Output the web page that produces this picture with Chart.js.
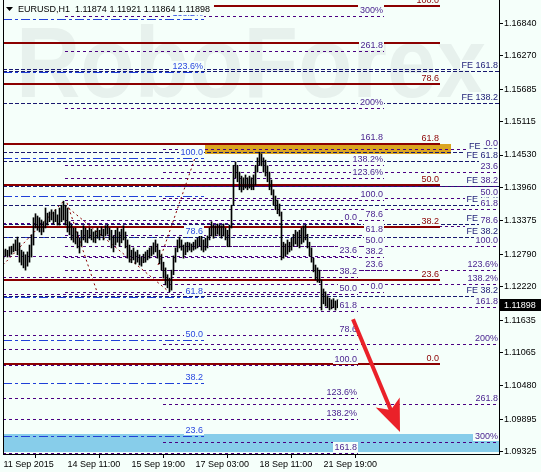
<!DOCTYPE html>
<html>
<head>
<meta charset="utf-8">
<script src="https://cdn.jsdelivr.net/npm/chart.js@4.4.0/dist/chart.umd.min.js"></script>
<style>
html,body{margin:0;padding:0;background:#f5fffa}
#wrap{width:541px;height:472px}
</style>
</head>
<body>
<div id="wrap"><canvas id="c" width="541" height="472"></canvas></div>
<script>
/* EURUSD H1 with fibo levels */
const symbol='EURUSD,H1';
const headOHLC=[1.11874,1.11921,1.11864,1.11898];
const lastPrice=1.11898;

const timeTickBars=[0,32,64,96,128,160];
const timeTickText=['11 Sep 2015','14 Sep 11:00','15 Sep 19:00','17 Sep 03:00','18 Sep 11:00','21 Sep 19:00'];
const priceTicks=[1.16840,1.16270,1.15685,1.15115,1.14530,1.13960,1.13375,1.12790,1.12220,1.11635,1.11065,1.10480,1.09895,1.09325];

const highs=[1.1286,1.1288,1.1286,1.1292,1.1293,1.1297,1.1304,1.1309,1.1299,1.1286,
1.1283,1.1278,1.1283,1.1295,1.1313,1.1343,1.1350,1.1346,1.1343,1.1339,
1.1336,1.1360,1.1351,1.1353,1.1357,1.1353,1.1357,1.1348,1.1360,1.1365,
1.1372,1.1365,1.1360,1.1336,1.1330,1.1325,1.1325,1.1318,1.1307,1.1321,
1.1329,1.1325,1.1321,1.1325,1.1323,1.1318,1.1320,1.1325,1.1321,1.1327,
1.1323,1.1329,1.1330,1.1325,1.1321,1.1311,1.1321,1.1325,1.1318,1.1323,
1.1329,1.1318,1.1304,1.1295,1.1286,1.1290,1.1283,1.1286,1.1278,1.1274,
1.1279,1.1283,1.1286,1.1290,1.1293,1.1299,1.1304,1.1297,1.1286,1.1278,
1.1265,1.1255,1.1243,1.1237,1.1251,1.1276,1.1290,1.1304,1.1309,1.1304,
1.1295,1.1299,1.1300,1.1299,1.1297,1.1300,1.1304,1.1307,1.1318,1.1311,
1.1304,1.1307,1.1311,1.1325,1.1336,1.1330,1.1329,1.1332,1.1330,1.1329,
1.1332,1.1325,1.1321,1.1330,1.1365,1.1435,1.1441,1.1435,1.1423,1.1416,
1.1413,1.1418,1.1413,1.1416,1.1413,1.1418,1.1435,1.1448,1.1458,1.1455,
1.1448,1.1444,1.1434,1.1423,1.1409,1.1392,1.1381,1.1374,1.1367,1.1353,
1.1300,1.1297,1.1304,1.1300,1.1307,1.1314,1.1321,1.1318,1.1321,1.1325,
1.1329,1.1330,1.1314,1.1300,1.1290,1.1272,1.1260,1.1255,1.1251,1.1234,
1.1218,1.1213,1.1206,1.1202,1.1199,1.1201,1.1197,1.1199,1.1195];
const lows=[1.1272,1.1276,1.1274,1.1276,1.1279,1.1283,1.1285,1.1278,1.1265,1.1260,
1.1255,1.1251,1.1258,1.1265,1.1274,1.1295,1.1325,1.1321,1.1318,1.1313,
1.1318,1.1325,1.1330,1.1336,1.1339,1.1332,1.1336,1.1330,1.1330,1.1336,
1.1339,1.1330,1.1318,1.1313,1.1304,1.1300,1.1297,1.1290,1.1281,1.1293,
1.1304,1.1300,1.1299,1.1307,1.1304,1.1300,1.1299,1.1307,1.1304,1.1311,
1.1304,1.1311,1.1314,1.1304,1.1290,1.1283,1.1295,1.1300,1.1293,1.1299,
1.1304,1.1290,1.1272,1.1265,1.1264,1.1269,1.1262,1.1265,1.1260,1.1258,
1.1264,1.1265,1.1269,1.1272,1.1276,1.1279,1.1283,1.1272,1.1262,1.1251,
1.1237,1.1225,1.1220,1.1213,1.1216,1.1243,1.1265,1.1283,1.1290,1.1286,
1.1272,1.1278,1.1283,1.1286,1.1283,1.1286,1.1288,1.1290,1.1293,1.1286,
1.1283,1.1286,1.1290,1.1304,1.1311,1.1307,1.1311,1.1314,1.1311,1.1307,
1.1311,1.1304,1.1292,1.1292,1.1325,1.1365,1.1413,1.1406,1.1392,1.1388,
1.1392,1.1395,1.1392,1.1395,1.1392,1.1392,1.1400,1.1423,1.1435,1.1434,
1.1423,1.1416,1.1406,1.1392,1.1383,1.1365,1.1357,1.1350,1.1346,1.1269,
1.1272,1.1276,1.1279,1.1283,1.1286,1.1293,1.1297,1.1293,1.1290,1.1297,
1.1300,1.1304,1.1290,1.1276,1.1265,1.1248,1.1234,1.1230,1.1229,1.1181,
1.1192,1.1188,1.1185,1.1181,1.1183,1.1185,1.1181,1.1185,1.1187];

// fibo retracement (dark red, solid)
const redPrices=[1.1714,1.1650,1.1578,1.1472,1.1400,1.1326,1.1234,1.1087];
const redLabels=['100.0','','78.6','61.8','50.0','38.2','23.6','0.0'];
// fibo (blue, dash-dot)
const bluePrices=[1.1692,1.1599,1.1448,1.1381,1.1309,1.1204,1.1129,1.1053,1.0960];
const blueLabels=['138.2%','123.6%','100.0','','78.6','61.8','50.0','38.2','23.6'];
// fibo A (purple, upper)
const fiboAPrices=[1.1213,1.1251,1.1274,1.1293,1.1312,1.1339,1.1374,1.1412,1.1436,1.1474,1.1536,1.1635,1.1697];
const fiboALabels=['0.0','23.6','38.2','50.0','61.8','78.6','100.0','123.6%','138.2%','161.8','200%','261.8','300%'];
// fibo B (purple, lower)
const fiboBPrices=[1.1334,1.1275,1.1239,1.1209,1.1180,1.1138,1.1113,1.1085,1.1026,1.0990,1.0931];
const fiboBLabels=['0.0','23.6','38.2','50.0','61.8','78.6','','100.0','123.6%','138.2%','161.8'];
// fibo C (purple, right side)
const fiboCPrices=[1.1464,1.1423,1.1398,1.1378,1.1358,1.1329,1.1293,1.1252,1.1227,1.1187,1.1122,1.1016,1.0950];
const fiboCLabels=['0.0','23.6','38.2','50.0','61.8','78.6','100.0','123.6%','138.2%','161.8','200%','261.8','300%'];
// fibo expansions (navy)
const fePrices=[1.1604,1.1600,1.1544,1.1458,1.1443,1.1399,1.1365,1.1332,1.1309,1.1206];
const feLabels=['','FE 161.8','FE 138.2','FE 100','FE 61.8','FE 38.2','FE 61.8','FE 78.6','FE 38.2','FE 38.2'];

// zones [fromBar,toBar,priceTop,priceBottom]
const orangeZone=[100.75,223.75,1.1472,1.1455];
const blueZone=[-0.25,247.75,1.0963,1.0932];
// zigzag trend lines [bar,price,bar,price]
const trendLines=[[-0.25,1.1260,29.75,1.1371],[31.75,1.1369,46.75,1.1213],[30.75,1.1365,81.75,1.1216],[77.25,1.1260,96.75,1.1458]];
// forecast arrow [bar,price,bar,price]
const arrowPts=[174.75,1.1165,198.25,1.0967];

const yMin=1.09285, yMax=1.17249;
const F='"Liberation Sans", Arial, sans-serif';
const BG='#f5fffa';

const groups=[
    {prices:bluePrices,labels:blueLabels,from:-0.25,to:100.25,color:'#2040d8',text:'#2a48e0',width:1,dash:[9,3,3,3]},
    {prices:fiboBPrices,labels:fiboBLabels,from:-0.25,to:177.25,color:'#4b0082',text:'#4b2590',width:1,dash:[3,3]},
    {prices:fiboAPrices,labels:fiboALabels,from:30.75,to:190.25,color:'#4b0082',text:'#4b2590',width:1,dash:[3,3]},
    {prices:fePrices,labels:feLabels,from:-0.25,to:247.75,color:'#191970',text:'#23237a',width:1,dash:[4,2]},
    {prices:fiboCPrices,labels:fiboCLabels,from:79.75,to:247.75,color:'#4b0082',text:'#4b2590',width:1,dash:[3,3]},
    {prices:redPrices,labels:redLabels,from:-0.25,to:218.25,color:'#8b0000',text:'#8b0000',width:2,dash:[]}
];

const levelsPlugin={
    id:'levels',
    beforeDraw(chart){
        const {ctx}=chart;
        ctx.save();
        ctx.fillStyle=BG; ctx.fillRect(0,0,chart.width,chart.height);
        // watermark
        ctx.fillStyle='#e7f1ed';
        ctx.font='bold 100px '+F;
        const w=ctx.measureText('RoboForex').width;
        ctx.translate(16,97); ctx.scale(470/w,1);
        ctx.textBaseline='alphabetic'; ctx.fillText('RoboForex',0,0);
        ctx.restore();
    },
    beforeDatasetsDraw(chart){
        const {ctx,chartArea:a,scales:{x,y}}=chart;
        ctx.save();
        ctx.beginPath(); ctx.rect(a.left,a.top,a.width,a.height); ctx.clip();
        [[blueZone,'#87cdea'],[orangeZone,'#daa520']].forEach(([z,c])=>{
            const x0=x.getPixelForValue(z[0]), x1=x.getPixelForValue(z[1]);
            const y0=Math.round(y.getPixelForValue(z[2])), y1=Math.round(y.getPixelForValue(z[3]));
            ctx.fillStyle=c; ctx.fillRect(x0,y0,x1-x0,y1-y0);
        });
        groups.forEach(g=>{
            ctx.strokeStyle=g.color; ctx.lineWidth=g.width; ctx.setLineDash(g.dash);
            g.prices.forEach(p=>{
                const py=Math.round(y.getPixelForValue(p))+(g.width%2?0.5:0);
                ctx.beginPath(); ctx.moveTo(x.getPixelForValue(g.from),py); ctx.lineTo(x.getPixelForValue(g.to),py); ctx.stroke();
            });
        });
        ctx.strokeStyle='#8b0000'; ctx.lineWidth=1; ctx.setLineDash([2,3]);
        trendLines.forEach(t=>{
            ctx.beginPath(); ctx.moveTo(x.getPixelForValue(t[0]),y.getPixelForValue(t[1]));
            ctx.lineTo(x.getPixelForValue(t[2]),y.getPixelForValue(t[3])); ctx.stroke();
        });
        ctx.restore();
    },
    afterDatasetsDraw(chart){
        const {ctx,chartArea:a,scales:{x,y}}=chart;
        ctx.save();
        ctx.beginPath(); ctx.rect(a.left,0,a.width,a.bottom); ctx.clip();
        ctx.font='9px '+F; ctx.textBaseline='bottom'; ctx.textAlign='right';
        groups.forEach(g=>{
            const xe=Math.round(x.getPixelForValue(g.to))-1;
            g.prices.forEach((p,k)=>{
                const t=g.labels[k]; if (!t) return;
                const py=Math.round(y.getPixelForValue(p));
                const w=Math.ceil(ctx.measureText(t).width);
                ctx.fillStyle=BG; ctx.fillRect(xe-w-1,py-11,w+2,10);
                ctx.fillStyle=g.text; ctx.fillText(t,xe,py-1);
            });
        });
        // arrow
        const ax0=x.getPixelForValue(arrowPts[0]), ay0=y.getPixelForValue(arrowPts[1]);
        const ax1=x.getPixelForValue(arrowPts[2]), ay1=y.getPixelForValue(arrowPts[3]);
        const ang=Math.atan2(ay1-ay0,ax1-ax0), c=Math.cos(ang), s=Math.sin(ang);
        ctx.strokeStyle='#ea2129'; ctx.fillStyle='#ea2129'; ctx.lineWidth=4; ctx.setLineDash([]);
        ctx.beginPath(); ctx.moveTo(ax0,ay0); ctx.lineTo(ax1-22*c,ay1-22*s); ctx.stroke();
        ctx.beginPath(); ctx.moveTo(ax1,ay1);
        ctx.lineTo(ax1-32*c+13*s,ay1-32*s-13*c);
        ctx.lineTo(ax1-24*c,ay1-24*s);
        ctx.lineTo(ax1-32*c-13*s,ay1-32*s+13*c);
        ctx.closePath(); ctx.fill();
        ctx.restore();
    },
    afterDraw(chart){
        const {ctx,chartArea:a,scales:{y}}=chart;
        ctx.save();
        // left frame line
        ctx.strokeStyle='#000'; ctx.lineWidth=1;
        ctx.beginPath(); ctx.moveTo(a.left+0.5,0); ctx.lineTo(a.left+0.5,a.bottom); ctx.stroke();
        // title
        ctx.font='9px '+F; ctx.textBaseline='middle'; ctx.textAlign='left';
        const title=symbol+'  '+headOHLC.map(v=>v.toFixed(5)).join(' ');
        const tw=ctx.measureText(title).width;
        ctx.fillStyle=BG; ctx.fillRect(a.left+1,0,tw+18,15);
        ctx.fillStyle='#000';
        ctx.beginPath(); ctx.moveTo(6,7); ctx.lineTo(13,7); ctx.lineTo(9.5,11); ctx.closePath(); ctx.fill();
        ctx.fillText(title,18,9.5);
        // last price box
        const py=Math.round(y.getPixelForValue(lastPrice));
        ctx.fillStyle='#000'; ctx.fillRect(a.right+1,py-6,chart.width-a.right-1,12);
        ctx.fillStyle='#fff'; ctx.fillText(lastPrice.toFixed(5),a.right+5,py+0.5);
        ctx.restore();
    }
};

new Chart(document.getElementById('c'),{
    type:'bar',
    data:{datasets:[{
        data:highs.map((h,i)=>({x:i,y:[lows[i],h]})),
        backgroundColor:'#000',borderWidth:0,barThickness:1,grouped:false
    }]},
    options:{
        responsive:false,animation:false,devicePixelRatio:1,
        layout:{padding:{left:3,top:0,right:0,bottom:0}},
        plugins:{legend:{display:false},tooltip:{enabled:false}},
        scales:{
            x:{type:'linear',min:-0.25,max:247.75,offset:false,
                afterBuildTicks:s=>{s.ticks=timeTickBars.map(v=>({value:v}));},
                afterFit:s=>{s.height=18;s.paddingLeft=0;s.paddingRight=0;},
                grid:{drawOnChartArea:false,tickLength:4,color:'#000'},
                border:{display:true,color:'#000'},
                ticks:{autoSkip:false,maxRotation:0,align:'start',padding:1,color:'#000',font:{family:F,size:9},
                    callback:(v,i)=>timeTickText[i]}},
            y:{type:'linear',position:'right',min:yMin,max:yMax,
                afterBuildTicks:s=>{s.ticks=priceTicks.map(v=>({value:v}));},
                afterFit:s=>{s.width=42;s.paddingTop=0;s.paddingBottom=0;},
                grid:{drawOnChartArea:false,tickLength:4,color:'#000'},
                border:{display:true,color:'#000'},
                ticks:{autoSkip:false,padding:1,color:'#000',font:{family:F,size:9},callback:v=>v.toFixed(5)}}
        }
    },
    plugins:[levelsPlugin]
});
</script>
</body>
</html>
